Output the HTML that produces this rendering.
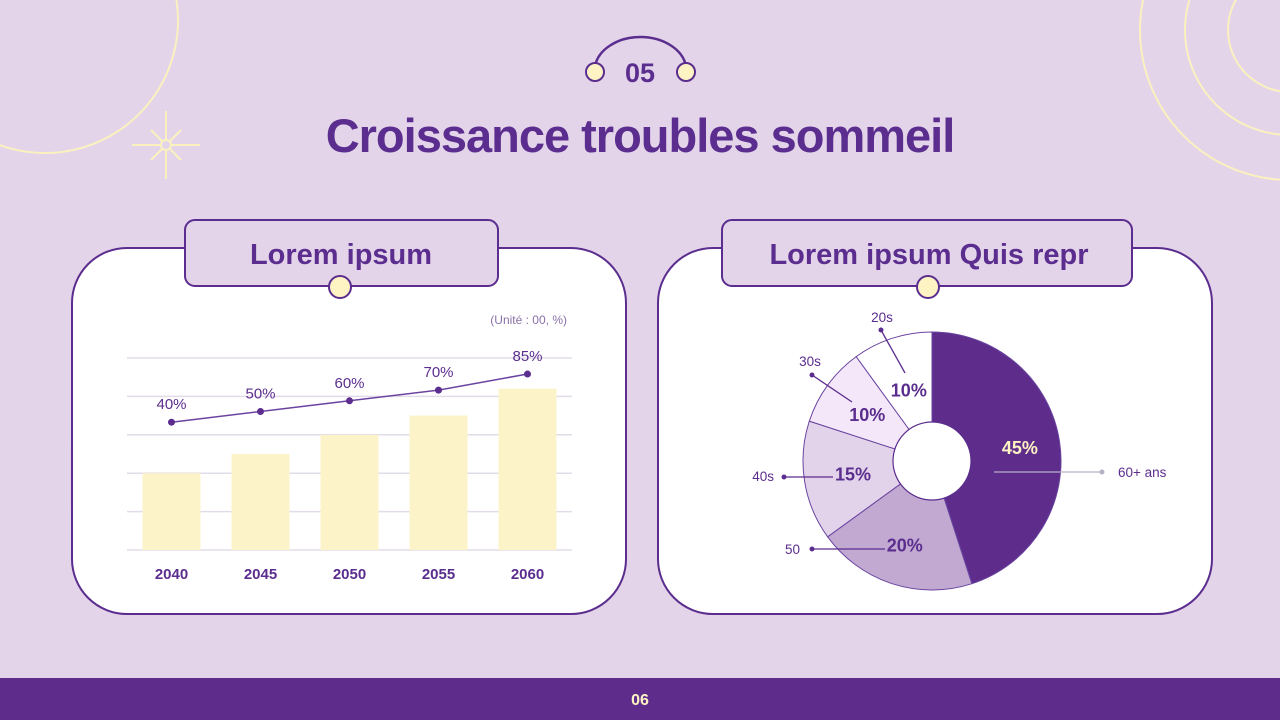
<!DOCTYPE html>
<html><head><meta charset="utf-8">
<style>
html,body{margin:0;padding:0;}
body{width:1280px;height:720px;overflow:hidden;background:#e3d4ea;font-family:"Liberation Sans",sans-serif;position:relative;}
svg{position:absolute;left:0;top:0;}
</style></head>
<body>
<svg width="1280" height="720" viewBox="0 0 1280 720">
  <g fill="none" stroke="#fbf1bf" stroke-width="2">
    <circle cx="45" cy="20" r="133"/>
    <circle cx="1290" cy="30" r="150"/>
    <circle cx="1290" cy="30" r="105"/>
    <circle cx="1290" cy="30" r="62"/>
    <g>
      <line x1="166" y1="111" x2="166" y2="179"/><line x1="132" y1="145" x2="200" y2="145"/>
      <line x1="151" y1="130" x2="181" y2="160"/><line x1="181" y1="130" x2="151" y2="160"/>
      <circle cx="166" cy="145" r="5" fill="#e3d4ea"/>
    </g>
  </g>
  <g>
    <path d="M595,66 A46,34 0 0 1 686,66" fill="none" stroke="#5b2d8e" stroke-width="2.5"/>
    <circle cx="595" cy="72" r="9" fill="#fdf3c3" stroke="#5b2d8e" stroke-width="2"/>
    <circle cx="686" cy="72" r="9" fill="#fdf3c3" stroke="#5b2d8e" stroke-width="2"/>
    <text x="640" y="82" text-anchor="middle" font-size="27" font-weight="bold" fill="#5b2d8e">05</text>
  </g>
  <text x="640" y="152" text-anchor="middle" font-size="47" font-weight="bold" fill="#5b2d8e" letter-spacing="-1">Croissance troubles sommeil</text>

  <g>
    <rect x="72" y="248" width="554" height="366" rx="55" fill="#fff" stroke="#5b2d8e" stroke-width="2"/>
    <rect x="185" y="220" width="313" height="66" rx="10" fill="#e3d4ea" stroke="#5b2d8e" stroke-width="2"/>
    <text x="341" y="264" text-anchor="middle" font-size="29" font-weight="bold" fill="#5b2d8e">Lorem ipsum</text>
    <circle cx="340" cy="287" r="11" fill="#fdf3c3" stroke="#5b2d8e" stroke-width="2"/>
    <text x="567" y="324" text-anchor="end" font-size="12" fill="#8a70a8">(Unité : 00, %)</text>
    <g id="bars"></g>
  </g>

  <g>
    <rect x="658" y="248" width="554" height="366" rx="55" fill="#fff" stroke="#5b2d8e" stroke-width="2"/>
    <rect x="722" y="220" width="410" height="66" rx="10" fill="#e3d4ea" stroke="#5b2d8e" stroke-width="2"/>
    <text x="929" y="264" text-anchor="middle" font-size="29" font-weight="bold" fill="#5b2d8e">Lorem ipsum Quis repr</text>
    <g id="pie"></g>
    <circle cx="928" cy="287" r="11" fill="#fdf3c3" stroke="#5b2d8e" stroke-width="2"/>
  </g>

  <rect x="0" y="678" width="1280" height="42" fill="#5e2d8c"/>
  <text x="640" y="705" text-anchor="middle" font-size="16" font-weight="bold" fill="#fdf3c3">06</text>
</svg>
<script>
const years = ["2040","2045","2050","2055","2060"];
const barValues = [2.0, 2.5, 3.0, 3.5, 4.2];
const lineValues = [40, 50, 60, 70, 85];
const lineLabels = ["40%","50%","60%","70%","85%"];
const gridTicks = [0,1,2,3,4,5];

const pieLabels = ["60+ ans","50","40s","30s","20s"];
const pieValues = [45, 20, 15, 10, 10];
const pieColors = ["#5e2d8c","#c1a9d1","#e2d3ea","#f4e7f9","#ffffff"];

const NS = "http://www.w3.org/2000/svg";
function mk(tag, attrs, parent){const e=document.createElementNS(NS,tag);for(const k in attrs)e.setAttribute(k,attrs[k]);parent.appendChild(e);return e;}

const bars = document.getElementById('bars');
const x0=127,x1=572,base=550,unit=38.4;
const yBar = v => base - v*unit;
const yLine = v => 465 - v*1.07;
const band=(x1-x0)/years.length;
const xC = i => x0 + band*(i+0.5);
gridTicks.forEach(t=>{
  const l=mk('line',{x1:x0,x2:x1,y1:yBar(t),y2:yBar(t),stroke:'#e2dbe8','stroke-width':1.5},bars);
  
  
});
years.forEach((y,i)=>{
  const r=mk('rect',{x:xC(i)-29,y:yBar(barValues[i]),width:58,height:base-yBar(barValues[i]),fill:'#fdf3c8'},bars);
  
  
  const t=mk('text',{x:xC(i),y:579,'text-anchor':'middle','font-size':15,'font-weight':'bold',fill:'#5b2d8e'},bars);
  t.textContent=y;
  
  
});
const pts=lineValues.map((v,i)=>[xC(i),yLine(v)]);
const pl=mk('polyline',{points:pts.map(p=>p.join(',')).join(' '),fill:'none',stroke:'#6a44a0','stroke-width':1.5},bars);


pts.forEach((p,i)=>{
  const c=mk('circle',{cx:p[0],cy:p[1],r:3.5,fill:'#5b2d8e'},bars);
  
  
  const t=mk('text',{x:p[0],y:p[1]-13,'text-anchor':'middle','font-size':15,fill:'#5b2d8e'},bars);
  t.textContent=lineLabels[i];
  
  
});

const pie=document.getElementById('pie');
const cx=932,cy=461,R=129,r0=39;
const total=pieValues.reduce((a,b)=>a+b,0);
let acc=0;
const pt=(a,rad)=>[cx+rad*Math.sin(a),cy-rad*Math.cos(a)];
const mids=[];
pieValues.forEach((v,i)=>{
  const a0=acc/total*2*Math.PI; acc+=v; const a1=acc/total*2*Math.PI;
  const p0=pt(a0,R),p1=pt(a1,R),large=(a1-a0)>Math.PI?1:0;
  const s=mk('path',{d:`M${cx},${cy} L${p0[0]},${p0[1]} A${R},${R} 0 ${large} 1 ${p1[0]},${p1[1]} Z`,fill:pieColors[i],stroke:'#6a44a0','stroke-width':1},pie);
  
  
  mids.push((a0+a1)/2);
});
const hole=mk('circle',{cx:cx,cy:cy,r:r0,fill:'#fff',stroke:'#5b2d8e','stroke-width':1.2},pie);


const labRad=[90,88,80,80,75];
mids.forEach((m,i)=>{
  const p=pt(m,labRad[i]);
  const t=mk('text',{x:p[0]+(i===0?-1:0),y:p[1]+7,'text-anchor':'middle','font-size':18,'font-weight':'bold',fill:i===0?'#fdf3c3':'#5b2d8e'},pie);
  t.textContent=pieValues[i]+'%';
  
  
});
const callouts=[
  {l:[994,472,1102,472],tx:1118,ty:477,anchor:'start',col:'#b8b0c4'},
  {l:[885,549,812,549],tx:800,ty:554,anchor:'end',col:'#5b2d8e'},
  {l:[833,477,784,477],tx:774,ty:481,anchor:'end',col:'#5b2d8e'},
  {l:[852,402,812,375],tx:810,ty:366,anchor:'middle',col:'#5b2d8e'},
  {l:[905,373,881,330],tx:882,ty:322,anchor:'middle',col:'#5b2d8e'}
];
callouts.forEach((c,i)=>{
  const g=mk('g',{},pie);
  
  
  mk('line',{x1:c.l[0],y1:c.l[1],x2:c.l[2],y2:c.l[3],stroke:c.col,'stroke-width':1.3},g);
  mk('circle',{cx:c.l[2],cy:c.l[3],r:2.5,fill:c.col},g);
  const t=mk('text',{x:c.tx,y:c.ty,'text-anchor':c.anchor,'font-size':13.5,fill:'#5b2d8e'},g);
  t.textContent=pieLabels[i];
});
</script>
</body></html>
